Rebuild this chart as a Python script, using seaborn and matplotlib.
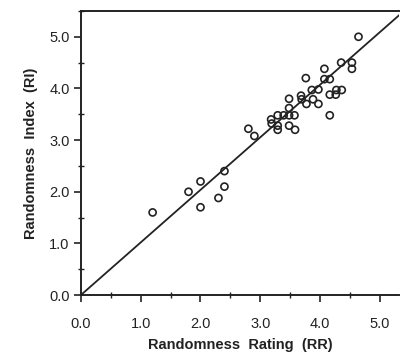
import matplotlib
matplotlib.use("Agg")
import matplotlib.pyplot as plt
import seaborn as sns
import numpy as np
import pandas as pd
from matplotlib.ticker import MultipleLocator, FormatStrFormatter

# Data
rr = [1.2, 1.8, 2.0, 2.0, 2.3, 2.4, 2.4, 2.8, 2.9, 3.18, 3.19, 3.29, 3.29, 3.29,
      3.39, 3.48, 3.48, 3.48, 3.48, 3.57, 3.58, 3.68, 3.69, 3.76, 3.77, 3.86,
      3.88, 3.97, 3.97, 4.07, 4.07, 4.16, 4.16, 4.16, 4.26, 4.27, 4.36, 4.35,
      4.53, 4.53, 4.64]
ri = [1.6, 2.0, 2.2, 1.7, 1.88, 2.4, 2.1, 3.22, 3.08, 3.4, 3.32, 3.48, 3.28, 3.2,
      3.48, 3.8, 3.62, 3.48, 3.28, 3.48, 3.2, 3.86, 3.79, 4.2, 3.7, 3.97,
      3.79, 3.7, 3.98, 4.38, 4.18, 4.18, 3.88, 3.48, 3.88, 3.97, 3.97, 4.5,
      4.5, 4.38, 5.0]
line_x = [0.0, 5.4]
line_y = [0.0, 5.5]

df = pd.DataFrame({"RR": rr, "RI": ri})
lf = pd.DataFrame({"x": line_x, "y": line_y})

sns.set_style("ticks")
plt.rcParams["font.family"] = ["Liberation Sans", "DejaVu Sans"]

fig = plt.figure(figsize=(4.0, 3.53), dpi=100)
ax = fig.add_axes([0.202, 0.164, 0.796, 0.805])

sns.lineplot(data=lf, x="x", y="y", ax=ax, color="#222222", linewidth=1.3)
sns.scatterplot(data=df, x="RR", y="RI", ax=ax, s=26, facecolor="none",
                edgecolor="#222222", linewidth=1.2, marker="o")

ax.set_xlim(0, 5.32)
ax.set_ylim(0, 5.5)
ax.xaxis.set_major_locator(MultipleLocator(1.0))
ax.xaxis.set_minor_locator(MultipleLocator(0.5))
ax.yaxis.set_major_locator(MultipleLocator(1.0))
ax.yaxis.set_minor_locator(MultipleLocator(0.5))
ax.xaxis.set_major_formatter(FormatStrFormatter("%.1f"))
ax.yaxis.set_major_formatter(FormatStrFormatter("%.1f"))

ax.tick_params(which="major", direction="out", length=5, width=1.2,
               labelsize=10.5, colors="#222222")
ax.tick_params(axis="x", which="major", pad=11)
ax.tick_params(axis="y", which="major", pad=3)
ax.tick_params(which="minor", direction="inout", length=4, width=1.0,
               colors="#222222")

for side in ["left", "bottom", "top"]:
    ax.spines[side].set_linewidth(1.4)
    ax.spines[side].set_color("#222222")
ax.spines["right"].set_visible(False)

ax.set_xlabel("Randomness  Rating  (RR)", fontsize=10.5, fontweight="bold",
              color="#222222", labelpad=5)
ax.set_ylabel("Randomness  Index  (RI)", fontsize=10.5, fontweight="bold",
              color="#222222", labelpad=8)

fig.savefig("out.png", dpi=100, facecolor="white")
